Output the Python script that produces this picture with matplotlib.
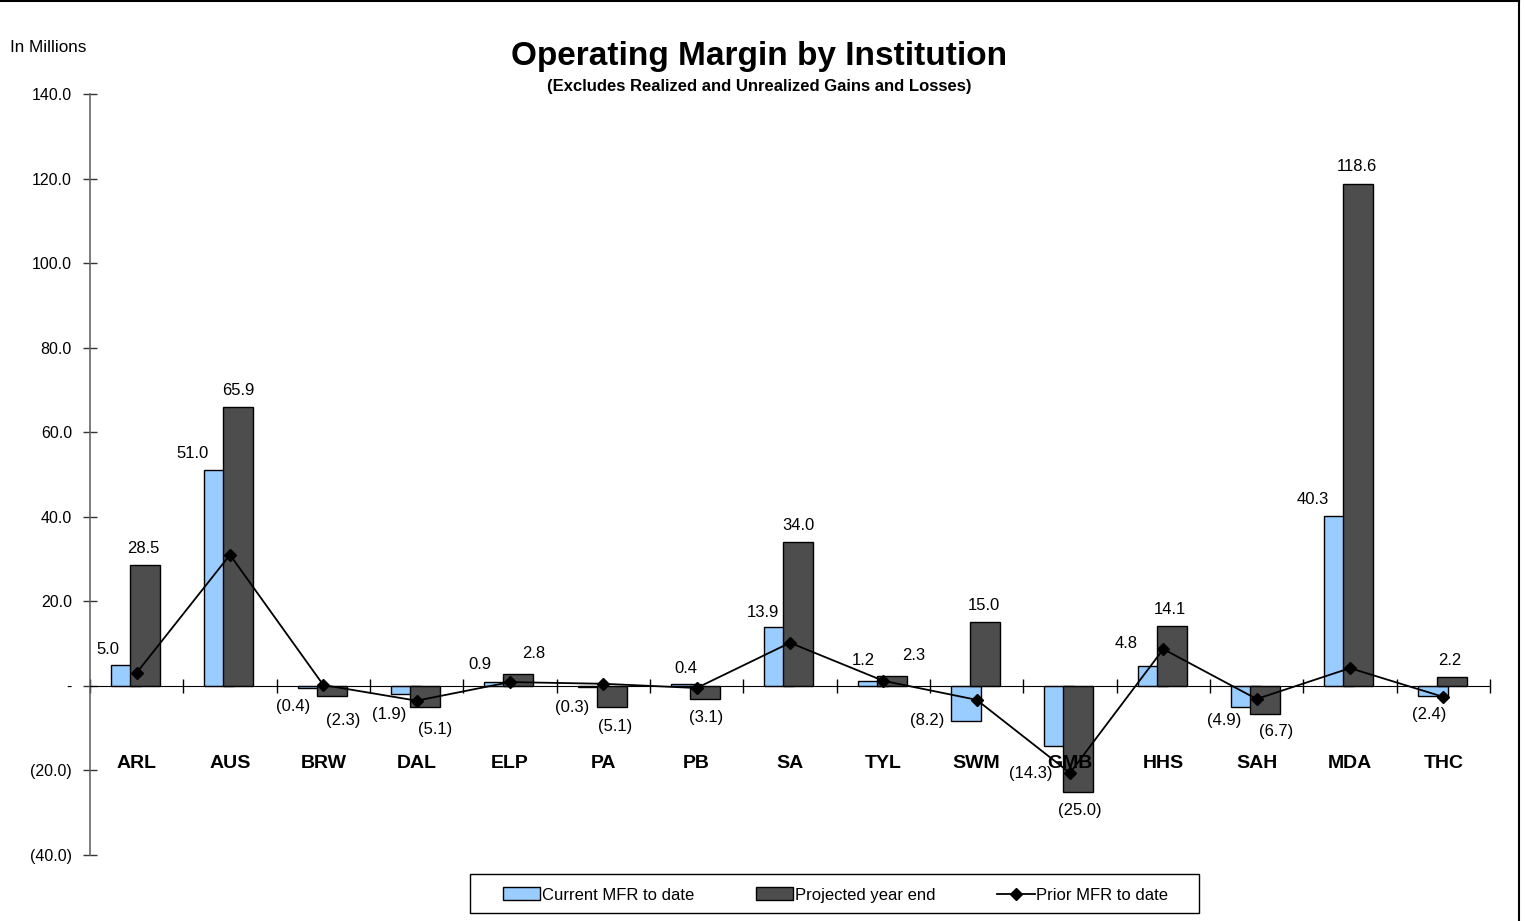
import matplotlib.pyplot as plt
from matplotlib.lines import Line2D
from matplotlib.patches import Patch, Rectangle
from matplotlib.ticker import FuncFormatter

plt.rcParams['font.family'] = ['Liberation Sans', 'DejaVu Sans']

# Operating margin per institution, in millions
institutions = ["ARL", "AUS", "BRW", "DAL", "ELP", "PA", "PB", "SA",
                "TYL", "SWM", "GMB", "HHS", "SAH", "MDA", "THC"]
current_mfr = [5.0, 51.0, -0.4, -1.9, 0.9, -0.3, 0.4, 13.9,
               1.2, -8.2, -14.3, 4.8, -4.9, 40.3, -2.4]
projected_ye = [28.5, 65.9, -2.3, -5.1, 2.8, -5.1, -3.1, 34.0,
                2.3, 15.0, -25.0, 14.1, -6.7, 118.6, 2.2]
prior_mfr = [3.1, 31.0, 0.2, -3.5, 0.9, 0.5, -0.5, 10.2,
             1.2, -3.3, -20.6, 8.7, -3.1, 4.2, -2.6]

# where each value label sits, in pixels from the bar end (x right, y up)
current_label_pos = [(-29, 17), (-37, 18), (-30, -17), (-27, -19), (-30, 19),
                     (-31, -19), (-11, 17), (-27, 16), (-20, 22), (-49, 2),
                     (-39, -26), (-37, 24), (-32, -12), (-37, 18), (-14, -17)]
projected_label_pos = [(7, 18), (8, 18), (20, -23), (18, -21), (24, 22),
                       (12, -18), (9, -17), (8, 18), (30, 22), (7, 18),
                       (10, -17), (7, 18), (19, -16), (7, 19), (6, 18)]

LIGHT = '#99ccff'
DARK = '#4d4d4d'


def fmt(v):
    if abs(v) < 1e-9:
        return '-'
    if v < 0:
        return '({:.1f})'.format(-v)
    return '{:.1f}'.format(v)


fig = plt.figure(figsize=(15.25, 9.21), dpi=100)
ax = fig.add_axes([90 / 1525, 1 - 855 / 921, 1400 / 1525, 761 / 921])

centers = [i + 0.5 for i in range(len(institutions))]
w = 0.32
ax.bar([c - 0.115 for c in centers], current_mfr, width=w, color=LIGHT,
       edgecolor='black', linewidth=1, zorder=2)
ax.bar([c + 0.09 for c in centers], projected_ye, width=w, color=DARK,
       edgecolor='black', linewidth=1, zorder=3)
ax.plot(centers, prior_mfr, color='black', lw=1.3, marker='D', ms=6, zorder=5)

# value labels (pixel offsets -> points at 100 dpi)
for vals, offsets in ((current_mfr, current_label_pos), (projected_ye, projected_label_pos)):
    for c, v, (dx, dy) in zip(centers, vals, offsets):
        ax.annotate(fmt(v), (c, v), xytext=(dx * 0.72, (dy - 1.5) * 0.72),
                    textcoords='offset points', ha='center', va='center',
                    fontsize=12, zorder=6)

for c, name in zip(centers, institutions):
    ax.text(c, -18.4, name, ha='center', va='center', fontsize=14, fontweight='bold')

ax.set_xlim(0, len(institutions))
ax.set_ylim(-40, 140)
ax.set_yticks(range(-40, 141, 20))
ax.yaxis.set_major_formatter(FuncFormatter(lambda v, p: fmt(v)))
ax.tick_params(axis='y', direction='inout', length=10, width=1, pad=8,
               labelsize=11.5, color='#333333')

ax.spines['bottom'].set_position(('data', 0))
ax.spines['bottom'].set_color('black')
ax.spines['bottom'].set_zorder(4)
ax.set_xticks(range(len(institutions) + 1))
ax.set_xticklabels([])
ax.tick_params(axis='x', direction='inout', length=10, width=1, color='black')
ax.spines['left'].set_color('#666666')
ax.spines['left'].set_linewidth(1.2)
for s in ('top', 'right'):
    ax.spines[s].set_visible(False)

fig.text(759 / 1525, 1 - 57 / 921, 'Operating Margin by Institution',
         ha='center', va='center', fontsize=24, fontweight='bold')
fig.text(759 / 1525, 1 - 86 / 921, '(Excludes Realized and Unrealized Gains and Losses)',
         ha='center', va='center', fontsize=12, fontweight='bold')
fig.text(10 / 1525, 1 - 47 / 921, 'In Millions', ha='left', va='center', fontsize=12.3)

# legend with its own box
fig.add_artist(Rectangle((470 / 1525, 1 - 913 / 921), 729 / 1525, 39 / 921,
                         transform=fig.transFigure, facecolor='white',
                         edgecolor='black', linewidth=1))
handles = [Patch(facecolor=LIGHT, edgecolor='black', linewidth=1),
           Patch(facecolor=DARK, edgecolor='black', linewidth=1),
           Line2D([], [], color='black', lw=1.3, marker='D', ms=6)]
fig.legend(handles, ['Current MFR to date', 'Projected year end', 'Prior MFR to date'],
           loc='center', bbox_to_anchor=(835.5 / 1525, 1 - 895 / 921), ncol=3,
           fontsize=12, frameon=False, columnspacing=3.7, handlelength=2.25,
           handleheight=0.8, handletextpad=0.1, borderpad=0, borderaxespad=0)

# outer frame lines
fig.add_artist(Line2D([0, 1519 / 1525], [1 - 1.5 / 921] * 2, color='black', lw=1.5,
                      transform=fig.transFigure))
fig.add_artist(Line2D([1519 / 1525] * 2, [0, 1 - 1.5 / 921], color='black', lw=1.5,
                      transform=fig.transFigure))

fig.savefig('out.png', dpi=100)
